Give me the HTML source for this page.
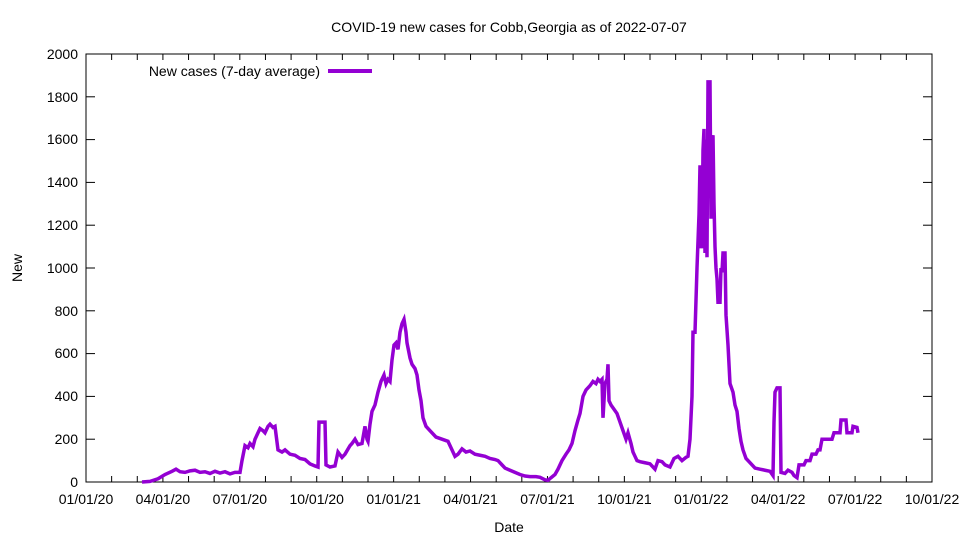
<!DOCTYPE html>
<html><head><meta charset="utf-8"><style>
body{margin:0;background:#fff;}
svg text{font-family:"Liberation Sans",sans-serif;font-size:14px;fill:#000;}
</style></head><body>
<svg id="s" width="960" height="540" viewBox="0 0 960 540" xmlns="http://www.w3.org/2000/svg">
<rect x="86" y="54" width="846" height="428" fill="none" stroke="#000" stroke-width="1"/>
<g id="ticks" stroke="#000" stroke-width="1">
<line x1="86" y1="439.2" x2="95" y2="439.2"/><line x1="932" y1="439.2" x2="923" y2="439.2"/>
<line x1="86" y1="396.4" x2="95" y2="396.4"/><line x1="932" y1="396.4" x2="923" y2="396.4"/>
<line x1="86" y1="353.6" x2="95" y2="353.6"/><line x1="932" y1="353.6" x2="923" y2="353.6"/>
<line x1="86" y1="310.8" x2="95" y2="310.8"/><line x1="932" y1="310.8" x2="923" y2="310.8"/>
<line x1="86" y1="268" x2="95" y2="268"/><line x1="932" y1="268" x2="923" y2="268"/>
<line x1="86" y1="225.2" x2="95" y2="225.2"/><line x1="932" y1="225.2" x2="923" y2="225.2"/>
<line x1="86" y1="182.4" x2="95" y2="182.4"/><line x1="932" y1="182.4" x2="923" y2="182.4"/>
<line x1="86" y1="139.6" x2="95" y2="139.6"/><line x1="932" y1="139.6" x2="923" y2="139.6"/>
<line x1="86" y1="96.8" x2="95" y2="96.8"/><line x1="932" y1="96.8" x2="923" y2="96.8"/>
</g>
<g text-anchor="end">
<text x="78" y="487">0</text><text x="78" y="444">200</text><text x="78" y="401">400</text>
<text x="78" y="358">600</text><text x="78" y="316">800</text><text x="78" y="273">1000</text>
<text x="78" y="230">1200</text><text x="78" y="187">1400</text><text x="78" y="144">1600</text>
<text x="78" y="102">1800</text><text x="78" y="59">2000</text>
</g>
<g id="xl" text-anchor="middle">
<text x="509" y="532">Date</text>
<text x="509" y="32">COVID-19 new cases for Cobb,Georgia as of 2022-07-07</text>
<text transform="translate(22,268) rotate(-90)">New</text>
</g>
<text x="320" y="76" text-anchor="end">New cases (7-day average)</text>
<line x1="328" y1="71" x2="372" y2="71" stroke="#9400d3" stroke-width="4"/>
<polyline fill="none" stroke="#9400d3" stroke-width="3.5" vector-effect="non-scaling-stroke"
transform="translate(0,482) scale(1,-0.214)"
points="142,0 150,3 158,15 165,35 172,50 176,60 180,48 185,45 190,52 195,55 200,45 205,48 210,40 215,50 220,42 225,48 230,38 235,45 240,45 242,100 245,170 248,160 250,180 253,165 255,200 258,230 260,250 263,240 265,230 268,260 270,270 273,255 275,260 278,150 282,140 285,150 290,130 295,125 300,110 305,105 310,85 315,75 318,70 319,280 325,280 326,80 330,70 335,75 338,140 342,115 345,130 350,170 352,180 355,200 358,175 362,180 365,260 367,200 368,190 370,270 372,330 375,360 378,420 381,470 384,500 386,460 388,480 390,470 392,570 394,640 396,650 398,620 400,700 402,740 404,760 406,700 407,650 410,580 412,550 415,530 417,500 419,430 421,380 423,300 426,260 430,240 436,210 442,200 448,190 452,150 455,120 458,130 462,155 466,140 470,145 475,130 480,125 485,120 490,110 495,105 498,100 502,80 505,65 510,55 515,45 520,35 525,28 530,25 536,25 540,22 545,10 548,8 551,20 555,35 558,60 562,100 566,130 569,150 572,180 575,240 578,290 580,320 583,400 586,430 590,450 593,470 596,460 598,480 600,470 602,480 603,300 605,460 607,480 608,550 609,380 611,360 614,340 617,320 620,280 623,240 626,200 628,230 631,180 633,140 635,120 637,100 640,95 645,90 650,85 655,60 658,100 662,95 665,80 670,70 674,110 678,120 682,100 686,115 688,120 690,200 692,400 693,700 695,700 697,1000 699,1250 700,1480 701,1100 702,1100 703,1550 704,1650 705,1070 706,1600 707,1050 708,1870 710,1870 711,1230 712,1600 713,1620 714,1300 715,1100 716,1000 717,950 718,840 720,840 721,1000 722,980 723,1070 725,1070 726,780 728,640 730,460 733,420 735,360 737,330 739,250 741,190 743,150 746,110 750,90 755,65 760,60 765,55 770,50 773,30 774,280 775,420 777,440 780,440 781,45 785,40 788,55 792,45 794,30 797,20 799,80 804,80 806,100 810,100 812,130 816,130 818,150 820,150 822,200 832,200 834,230 840,230 841,290 846,290 847,230 852,230 853,260 857,255 858,230"/>
<script>
(function(){
var ns="http://www.w3.org/2000/svg",t=document.getElementById("ticks"),xl=document.getElementById("xl");
var labs=["01/01/20","04/01/20","07/01/20","10/01/20","01/01/21","04/01/21","07/01/21","10/01/21","01/01/22","04/01/22","07/01/22","10/01/22"];
for(var i=0;i<=33;i++){var x=86+i*846/33;
[[482,476],[54,60]].forEach(function(p){var l=document.createElementNS(ns,"line");l.setAttribute("x1",x);l.setAttribute("x2",x);l.setAttribute("y1",p[0]);l.setAttribute("y2",p[1]);t.appendChild(l);});
if(i%3==0){var s=document.createElementNS(ns,"text");s.setAttribute("x",x);s.setAttribute("y",504);s.textContent=labs[i/3];xl.appendChild(s);}}
})();
</script>
</svg>
</body></html>
